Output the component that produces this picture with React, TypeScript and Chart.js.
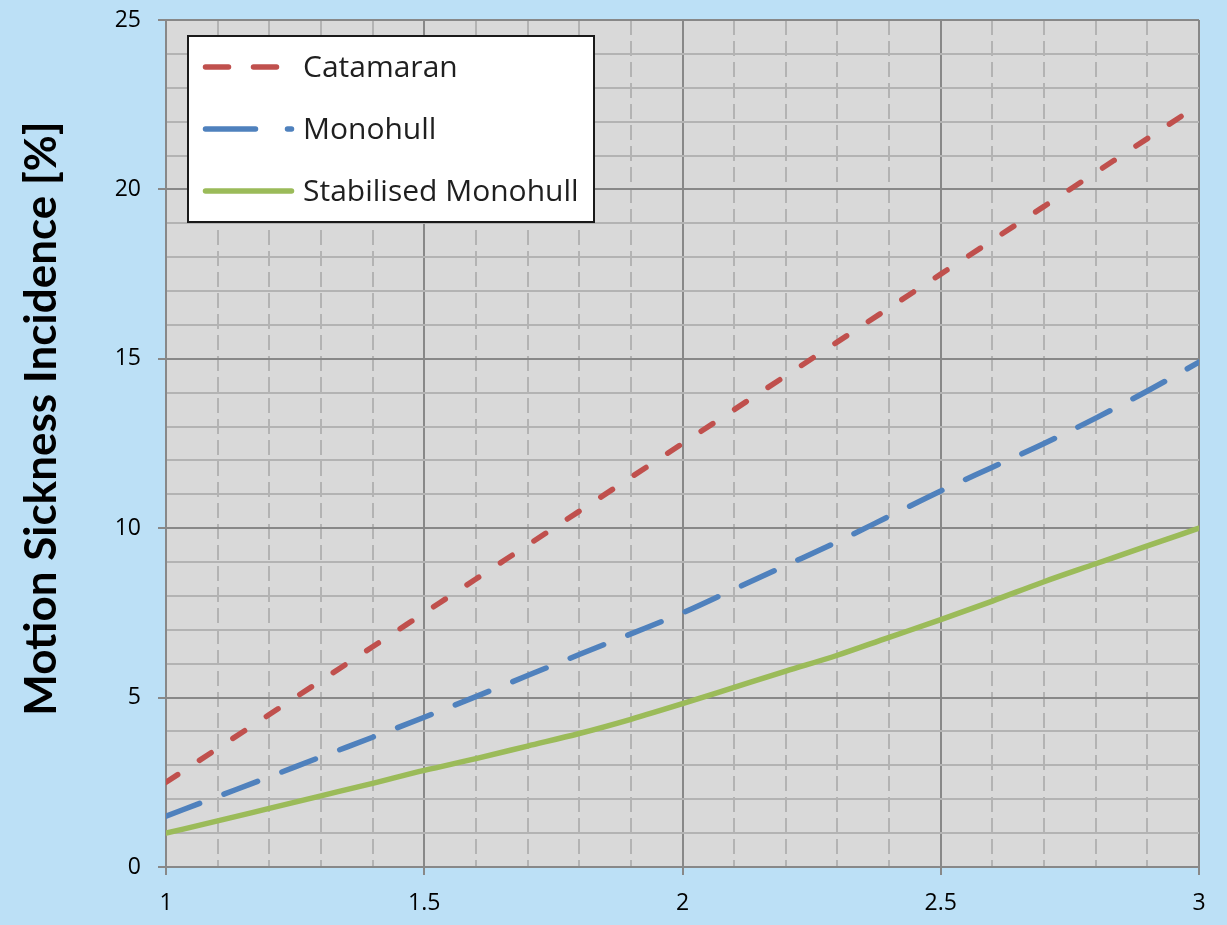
import { useEffect, useRef } from "react";
import { Chart, registerables } from "chart.js";

Chart.register(...registerables);

// Horizontal positions sampled every 0.1
const xValues = [1.0, 1.1, 1.2, 1.3, 1.4, 1.5, 1.6, 1.7, 1.8, 1.9, 2.0, 2.1, 2.2, 2.3, 2.4, 2.5, 2.6, 2.7, 2.8, 2.9, 3.0];

// Motion sickness incidence [%] per hull type
const catamaran = [2.5, 3.5, 4.5, 5.5, 6.5, 7.5, 8.5, 9.5, 10.5, 11.5, 12.5, 13.5, 14.5, 15.5, 16.5, 17.5, 18.5, 19.5, 20.5, 21.5, 22.5];
const monohull = [1.5, 2.08, 2.66, 3.25, 3.83, 4.42, 5.03, 5.65, 6.27, 6.88, 7.5, 8.2, 8.9, 9.6, 10.35, 11.1, 11.8, 12.5, 13.25, 14.05, 14.9];
const stabilisedMonohull = [1.0, 1.36, 1.73, 2.1, 2.47, 2.85, 3.2, 3.57, 3.94, 4.36, 4.82, 5.3, 5.78, 6.25, 6.78, 7.3, 7.85, 8.42, 8.95, 9.48, 10.0];

const seriesNames = ["Catamaran", "Monohull", "Stabilised Monohull"];
const yAxisTitle = "Motion Sickness Incidence [%]";

// Axis ranges and steps
const xMin = 1;
const xMax = 3;
const xMinorStep = 0.1;
const xMajorStep = 0.5;
const yMin = 0;
const yMax = 25;
const yMinorStep = 1;
const yMajorStep = 5;

const PAGE_BG = "#BCE0F6";
const PLOT_BG = "#D9D9D9";
const MAJOR_GRID = "#888888";
const MINOR_GRID = "#B3B3B3";
const COLORS = ["#C0504D", "#4F81BD", "#9BBB59"];

const isMultiple = (v: number, step: number) => Math.abs(v / step - Math.round(v / step)) < 1e-6;
const fmt = (v: number) => String(Math.round(v * 10) / 10);

const toPoints = (ys: number[]) => xValues.map((x, i) => ({ x, y: ys[i] }));

const backgroundPlugin = {
  id: "backgrounds",
  beforeDraw(chart: any) {
    const { ctx, chartArea, width, height } = chart;
    ctx.save();
    ctx.fillStyle = PAGE_BG;
    ctx.fillRect(0, 0, width, height);
    ctx.fillStyle = PLOT_BG;
    ctx.fillRect(chartArea.left, chartArea.top, chartArea.right - chartArea.left, chartArea.bottom - chartArea.top);
    ctx.restore();
  },
};

// Vertical axis title, set a little above the axis centre
const axisTitlePlugin = {
  id: "axisTitle",
  afterDraw(chart: any) {
    const { ctx, chartArea } = chart;
    const cy = (chartArea.top + chartArea.bottom) / 2 - 25;
    ctx.save();
    ctx.translate(42, cy);
    ctx.rotate(-Math.PI / 2);
    ctx.fillStyle = "#000000";
    ctx.font = "bold 44px Lato";
    ctx.textAlign = "center";
    ctx.textBaseline = "middle";
    ctx.fillText(yAxisTitle, 0, 0);
    ctx.restore();
  },
};

// Boxed legend inside the plot, top-left
const boxedLegendPlugin = {
  id: "boxedLegend",
  afterDraw(chart: any) {
    const { ctx, chartArea } = chart;
    const bx = chartArea.left + 22;
    const by = chartArea.top + 16;
    const bw = 406;
    const bh = 186;
    ctx.save();
    ctx.fillStyle = "#FFFFFF";
    ctx.fillRect(bx, by, bw, bh);
    ctx.lineWidth = 2;
    ctx.strokeStyle = "#1A1A1A";
    ctx.strokeRect(bx, by, bw, bh);

    const sampleDash = [[23, 25], [50, 32], []];
    const rowY = [by + 31, by + 93, by + 155];
    chart.data.datasets.forEach((ds: any, i: number) => {
      const y = rowY[i];
      ctx.beginPath();
      ctx.strokeStyle = ds.borderColor;
      ctx.lineWidth = 5.5;
      ctx.lineCap = "round";
      ctx.setLineDash(sampleDash[i]);
      ctx.moveTo(bx + 17.5, y);
      ctx.lineTo(bx + 103.5, y);
      ctx.stroke();
      ctx.setLineDash([]);
      ctx.fillStyle = "#1F1F1F";
      ctx.font = "30px 'Open Sans'";
      ctx.textBaseline = "middle";
      ctx.textAlign = "left";
      ctx.fillText(ds.label, bx + 115, y + 1);
    });
    ctx.restore();
  },
};

export default function App() {
  const canvasRef = useRef<HTMLCanvasElement | null>(null);

  useEffect(() => {
    document.body.style.margin = "0";
    const canvas = canvasRef.current;
    if (!canvas) return;

    const datasets = [catamaran, monohull, stabilisedMonohull].map((ys, i) => ({
      label: seriesNames[i],
      data: toPoints(ys),
      borderColor: COLORS[i],
      backgroundColor: COLORS[i],
      borderWidth: 5.5,
      borderCapStyle: "round" as const,
      borderJoinStyle: "round" as const,
      borderDash: i === 0 ? [14, 26] : i === 1 ? [36, 26] : [],
      pointRadius: 0,
      pointHoverRadius: 0,
      cubicInterpolationMode: "monotone" as const,
      fill: false,
    }));

    const chart = new Chart(canvas, {
      type: "line",
      data: { datasets },
      plugins: [backgroundPlugin, axisTitlePlugin, boxedLegendPlugin],
      options: {
        animation: false,
        responsive: false,
        devicePixelRatio: 1,
        events: [],
        layout: { padding: { top: 20, right: 28, bottom: 0, left: 0 } },
        plugins: {
          legend: { display: false },
          tooltip: { enabled: false },
        },
        scales: {
          x: {
            type: "linear",
            min: xMin,
            max: xMax,
            afterFit(scale: any) {
              scale.height = 58;
            },
            ticks: {
              stepSize: xMinorStep,
              autoSkip: false,
              maxRotation: 0,
              padding: 15,
              color: "#000000",
              font: { family: "'Open Sans'", size: 23 },
              callback: (v: any) => (isMultiple(Number(v), xMajorStep) ? fmt(Number(v)) : ""),
            },
            grid: {
              color: (c: any) => (c.tick && isMultiple(c.tick.value, xMajorStep) ? MAJOR_GRID : MINOR_GRID),
              lineWidth: 2,
              tickLength: 8,
              tickWidth: 2,
              tickColor: (c: any) => (c.tick && isMultiple(c.tick.value, xMajorStep) ? MAJOR_GRID : "rgba(0,0,0,0)"),
            },
            border: {
              display: true,
              color: MAJOR_GRID,
              width: 2,
              dash: (c: any) => (c.tick && !isMultiple(c.tick.value, xMajorStep) ? [15, 6] : []),
            },
          },
          y: {
            type: "linear",
            min: yMin,
            max: yMax,
            afterFit(scale: any) {
              scale.width = 166;
              scale.paddingTop = 0;
              scale.paddingBottom = 0;
            },
            ticks: {
              stepSize: yMinorStep,
              autoSkip: false,
              padding: 17,
              color: "#000000",
              font: { family: "'Open Sans'", size: 23 },
              callback: (v: any) => (isMultiple(Number(v), yMajorStep) ? fmt(Number(v)) : ""),
            },
            grid: {
              color: (c: any) => (c.tick && isMultiple(c.tick.value, yMajorStep) ? MAJOR_GRID : MINOR_GRID),
              lineWidth: 2,
              tickLength: 8,
              tickWidth: 2,
              tickColor: (c: any) => (c.tick && isMultiple(c.tick.value, yMajorStep) ? MAJOR_GRID : "rgba(0,0,0,0)"),
            },
            border: { display: true, color: MAJOR_GRID, width: 2 },
          },
        },
      },
    });

    return () => chart.destroy();
  }, []);

  return (
    <div style={{ position: "absolute", left: 0, top: 0, width: 1227, height: 925 }}>
      <canvas ref={canvasRef} width={1227} height={925} />
    </div>
  );
}
